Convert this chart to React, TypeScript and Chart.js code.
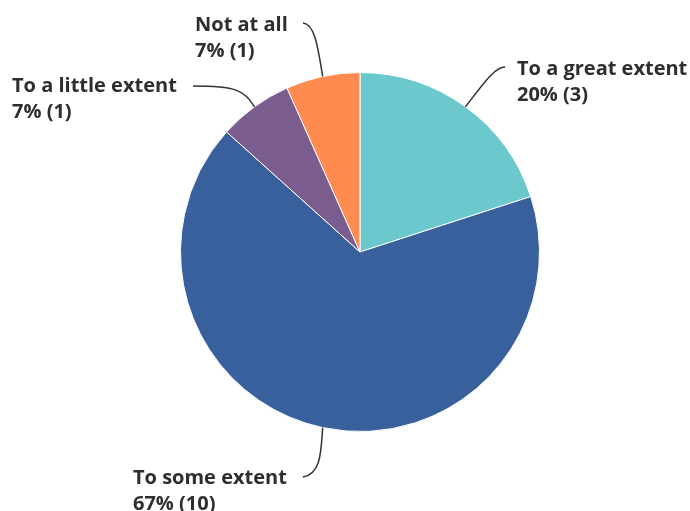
import React, { useEffect, useRef } from "react";
import { Chart, registerables } from "chart.js";

Chart.register(...registerables);

const categories = ["To a great extent", "To some extent", "To a little extent", "Not at all"];
const counts = [3, 10, 1, 1];
const colors = ["#6BC8CD", "#37609C", "#7B5C8E", "#FF8B4F"];

// label layout: text top-left (cap top), leader end point and control points
const labelLayout = [
  { tx: 517, ty: 61, end: [505, 67], c1: [481, 87], c2: [494, 67] },
  { tx: 133, ty: 470, end: [303, 477], c1: [321, 452], c2: [321, 474] },
  { tx: 12, ty: 78, end: [193, 86], c1: [244, 90], c2: [236, 86] },
  { tx: 195, ty: 17, end: [303, 23], c1: [318, 48], c2: [315, 24] },
];

const FONT = "700 20px 'Open Sans'";
const LINE_H = 26;
const CAP = 14.3;

const labelPlugin = {
  id: "leaderLabels",
  afterDraw(chart: any) {
    const ctx = chart.ctx;
    const meta = chart.getDatasetMeta(0);
    const total = counts.reduce((a, b) => a + b, 0);
    ctx.save();
    meta.data.forEach((arc: any, i: number) => {
      const lay = labelLayout[i];
      const mid = (arc.startAngle + arc.endAngle) / 2;
      const ax = arc.x + Math.cos(mid) * arc.outerRadius;
      const ay = arc.y + Math.sin(mid) * arc.outerRadius;
      ctx.beginPath();
      ctx.moveTo(ax, ay);
      ctx.bezierCurveTo(lay.c1[0], lay.c1[1], lay.c2[0], lay.c2[1], lay.end[0], lay.end[1]);
      ctx.strokeStyle = "#333";
      ctx.lineWidth = 1.5;
      ctx.stroke();
      ctx.fillStyle = "#2e2e2e";
      ctx.font = FONT;
      ctx.textAlign = "left";
      ctx.textBaseline = "alphabetic";
      const pct = Math.round((counts[i] / total) * 100);
      ctx.fillText(categories[i], lay.tx, lay.ty + CAP);
      ctx.fillText(`${pct}% (${counts[i]})`, lay.tx, lay.ty + CAP + LINE_H);
    });
    ctx.restore();
  },
};

export default function App() {
  const ref = useRef<HTMLCanvasElement>(null);
  useEffect(() => {
    if (!ref.current) return;
    const chart = new Chart(ref.current, {
      type: "pie",
      data: {
        labels: categories,
        datasets: [
          {
            data: counts,
            backgroundColor: colors,
            borderColor: "#ffffff",
            borderWidth: 1,
          },
        ],
      },
      options: {
        responsive: false,
        animation: false,
        layout: { padding: { left: 180, right: 150, top: 72, bottom: 79 } },
        plugins: { legend: { display: false }, tooltip: { enabled: false } },
      },
      plugins: [labelPlugin],
    });
    return () => chart.destroy();
  }, []);
  return (
    <div style={{ position: "absolute", left: 0, top: 0, width: 690, height: 511, background: "#fff" }}>
      <canvas ref={ref} width={690} height={511} />
    </div>
  );
}
